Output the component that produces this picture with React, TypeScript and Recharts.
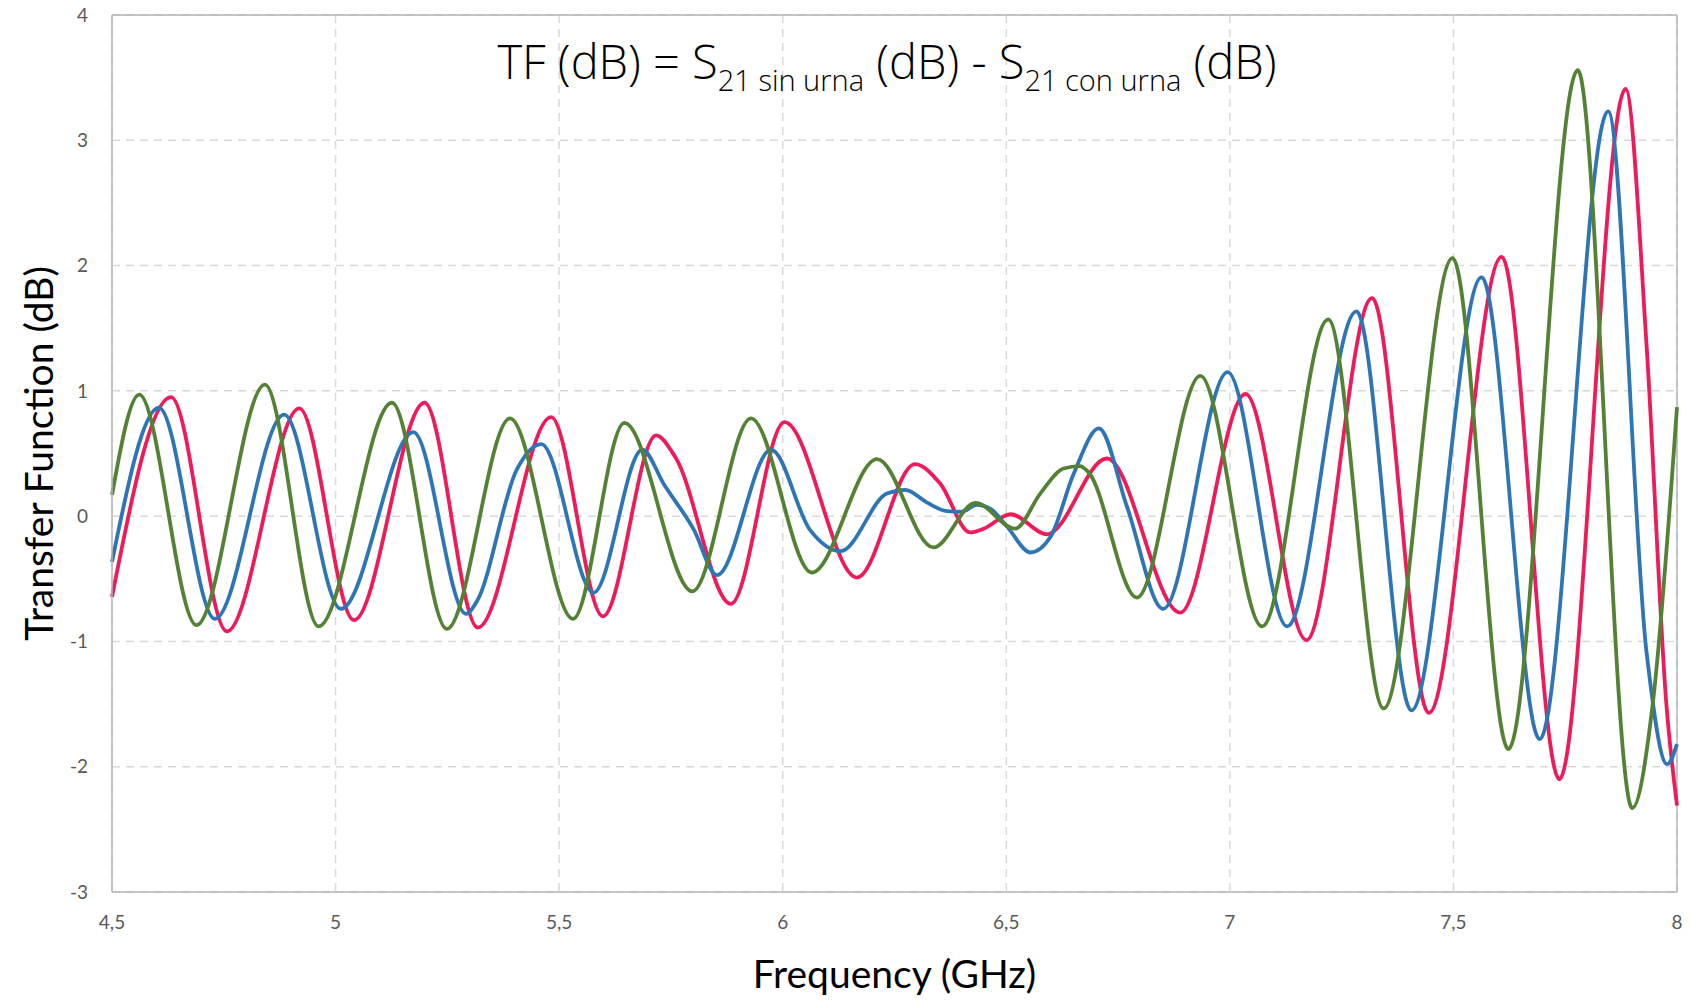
import React from 'react';
import { LineChart, Line, XAxis, YAxis, CartesianGrid, ReferenceLine } from 'recharts';

// Turning points of each trace: frequency (GHz) and transfer function (dB)
const redFreq = [4.5, 4.632, 4.757, 4.919, 5.041, 5.199, 5.318, 5.482, 5.598, 5.717, 5.76, 5.884, 6.004, 6.166, 6.296, 6.352, 6.419, 6.449, 6.51, 6.591, 6.725, 6.889, 7.035, 7.171, 7.318, 7.445, 7.608, 7.737, 7.885, 7.932, 7.976, 8.0];
const redTF = [-0.645, 0.95, -0.92, 0.86, -0.83, 0.905, -0.89, 0.79, -0.8, 0.645, 0.47, -0.7, 0.75, -0.49, 0.415, 0.26, -0.13, -0.1, 0.015, -0.145, 0.46, -0.77, 0.975, -0.99, 1.74, -1.57, 2.07, -2.1, 3.41, 1.36, -1.49, -2.31];

const blueFreq = [4.5, 4.605, 4.73, 4.885, 5.012, 5.174, 5.292, 5.316, 5.405, 5.46, 5.577, 5.686, 5.735, 5.8, 5.853, 5.974, 6.061, 6.129, 6.233, 6.274, 6.322, 6.367, 6.4, 6.434, 6.464, 6.502, 6.554, 6.599, 6.651, 6.707, 6.77, 6.851, 6.995, 7.128, 7.283, 7.406, 7.563, 7.693, 7.846, 7.932, 7.978, 8.0];
const blueTF = [-0.365, 0.865, -0.82, 0.81, -0.74, 0.67, -0.78, -0.68, 0.37, 0.575, -0.61, 0.53, 0.25, -0.1, -0.47, 0.53, -0.11, -0.28, 0.18, 0.21, 0.11, 0.04, 0.035, 0.09, 0.06, -0.085, -0.29, -0.165, 0.34, 0.7, 0.075, -0.74, 1.15, -0.88, 1.635, -1.55, 1.905, -1.78, 3.23, -1.09, -1.98, -1.82];

const greenFreq = [4.5, 4.561, 4.689, 4.842, 4.962, 5.126, 5.249, 5.39, 5.531, 5.646, 5.798, 5.929, 6.065, 6.211, 6.337, 6.431, 6.52, 6.576, 6.628, 6.665, 6.684, 6.792, 6.934, 7.072, 7.22, 7.344, 7.498, 7.623, 7.778, 7.9, 7.946, 8.0];
const greenTF = [0.17, 0.97, -0.87, 1.05, -0.88, 0.905, -0.9, 0.78, -0.82, 0.745, -0.6, 0.78, -0.45, 0.455, -0.25, 0.105, -0.1, 0.18, 0.38, 0.4, 0.35, -0.65, 1.12, -0.88, 1.57, -1.535, 2.06, -1.86, 3.56, -2.33, -1.49, 0.87];

const xTicks = [4.5, 5, 5.5, 6, 6.5, 7, 7.5, 8];
const yTicks = [-3, -2, -1, 0, 1, 2, 3, 4];

const toPoints = (freq: number[], tf: number[]) => freq.map((f, i) => ({ f, tf: tf[i] }));

const traces = [
  { key: 'red', color: '#EE1B5B', points: toPoints(redFreq, redTF) },
  { key: 'blue', color: '#2E75B6', points: toPoints(blueFreq, blueTF) },
  { key: 'green', color: '#548235', points: toPoints(greenFreq, greenTF) },
];

const W = 1691;
const H = 1002;
const font = 'Lato, "Open Sans", sans-serif';

const YTitle = (props: any) => {
  const vb = props.viewBox || { x: 0, y: 15, width: 112, height: 877 };
  const cx = 38;
  const cy = vb.y + vb.height / 2;
  return (
    <text x={cx} y={cy} transform={`rotate(-90 ${cx} ${cy})`} textAnchor="middle"
      dominantBaseline="central" fontFamily={font} fontSize={39} fill="#000">
      Transfer Function (dB)
    </text>
  );
};

const XTitle = (props: any) => {
  const vb = props.viewBox || { x: 112, y: 892, width: 1565, height: 110 };
  return (
    <text x={vb.x + vb.width / 2} y={973} textAnchor="middle" dominantBaseline="central"
      fontFamily={font} fontSize={39} fill="#000">
      Frequency (GHz)
    </text>
  );
};

const App: React.FC = () => {
  return (
    <div style={{ position: 'absolute', left: 0, top: 0, width: W, height: H, background: '#fff' }}>
      <LineChart width={W} height={H} margin={{ top: 15, right: 14, left: 0, bottom: 0 }}>
        <CartesianGrid stroke="#d9d9d9" strokeDasharray="8 6" strokeWidth={1.5} />
        <XAxis
          type="number"
          dataKey="f"
          domain={[4.5, 8]}
          ticks={xTicks}
          interval={0}
          height={110}
          tickLine={false}
          tickSize={0}
          tickMargin={24}
          stroke="#b4b4b4"
          strokeWidth={1.5}
          tick={{ fill: '#595959', fontSize: 19, fontFamily: font }}
          tickFormatter={(v: number) => String(v).replace('.', ',')}
          label={<XTitle />}
        />
        <YAxis
          type="number"
          domain={[-3, 4]}
          ticks={yTicks}
          interval={0}
          width={112}
          tickLine={false}
          tickSize={0}
          tickMargin={24}
          stroke="#b4b4b4"
          strokeWidth={1.5}
          tick={{ fill: '#595959', fontSize: 19, fontFamily: font }}
          label={<YTitle />}
        />
        <ReferenceLine y={4} stroke="#b4b4b4" strokeWidth={1.5} />
        <ReferenceLine x={8} stroke="#b4b4b4" strokeWidth={1.5} />
        {traces.map(t => (
          <Line
            key={t.key}
            data={t.points}
            dataKey="tf"
            type="monotone"
            stroke={t.color}
            strokeWidth={3.8}
            dot={false}
            activeDot={false}
            isAnimationActive={false}
          />
        ))}
      </LineChart>
      <svg width={W} height={120} style={{ position: 'absolute', left: 0, top: 0, pointerEvents: 'none' }}>
        <text x={887} y={79} textAnchor="middle" fontFamily='"Open Sans", sans-serif' fontWeight={300} fontSize={47} fill="#000">
          TF (dB) = S<tspan fontSize={29} dy={12}>21 sin urna</tspan>
          <tspan dy={-12}> (dB) - S</tspan><tspan fontSize={29} dy={12}>21 con urna</tspan>
          <tspan dy={-12}> (dB)</tspan>
        </text>
      </svg>
    </div>
  );
};

export default App;
